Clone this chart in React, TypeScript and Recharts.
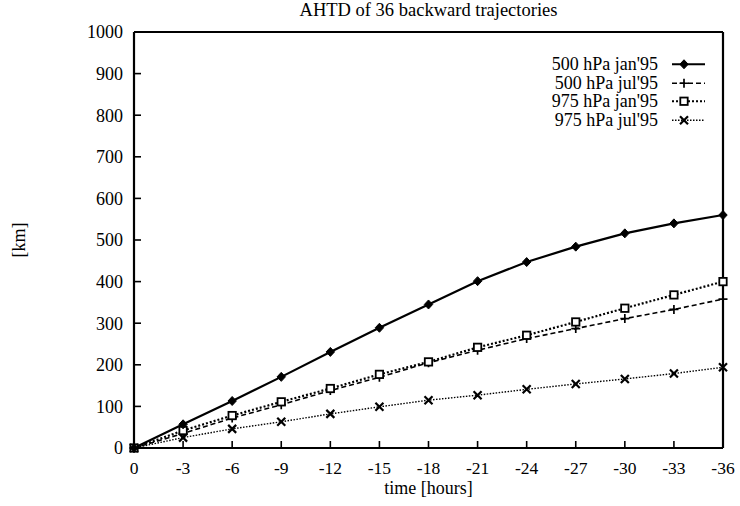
import React from 'react';
import { LineChart, Line, XAxis, YAxis, Legend } from 'recharts';

const hours = [0, -3, -6, -9, -12, -15, -18, -21, -24, -27, -30, -33, -36];
const jan500 = [0, 57, 113, 171, 231, 289, 345, 401, 447, 484, 516, 540, 560];
const jul500 = [0, 35, 72, 104, 138, 170, 205, 235, 263, 287, 311, 333, 358];
const jan975 = [0, 42, 78, 111, 143, 177, 207, 242, 271, 303, 336, 368, 400];
const jul975 = [0, 25, 46, 63, 82, 99, 115, 127, 141, 154, 166, 179, 194];
const yTicks = [0, 100, 200, 300, 400, 500, 600, 700, 800, 900, 1000];
const seriesNames = ["500 hPa jan'95", "500 hPa jul'95", "975 hPa jan'95", "975 hPa jul'95"];

const data = hours.map((h, i) => ({
  h,
  jan500: jan500[i],
  jul500: jul500[i],
  jan975: jan975[i],
  jul975: jul975[i],
}));

const FONT = "'Liberation Serif', 'Times New Roman', serif";

const diamondShape = (cx: number, cy: number, k?: string) => (
  <path key={k} d={`M${cx},${cy - 4.5} L${cx + 4.2},${cy} L${cx},${cy + 4.5} L${cx - 4.2},${cy} Z`} fill="#000" stroke="#000" strokeWidth={1} />
);
const plusShape = (cx: number, cy: number, k?: string) => (
  <path key={k} d={`M${cx - 4.5},${cy} L${cx + 4.5},${cy} M${cx},${cy - 4.5} L${cx},${cy + 4.5}`} stroke="#000" strokeWidth={1.7} fill="none" />
);
const squareShape = (cx: number, cy: number, k?: string) => (
  <rect key={k} x={cx - 3.7} y={cy - 3.7} width={7.4} height={7.4} fill="#fff" stroke="#000" strokeWidth={1.8} />
);
const crossShape = (cx: number, cy: number, k?: string) => (
  <path key={k} d={`M${cx - 4},${cy - 4} L${cx + 4},${cy + 4} M${cx - 4},${cy + 4} L${cx + 4},${cy - 4}`} stroke="#000" strokeWidth={2.2} fill="none" />
);

const shapes = [diamondShape, plusShape, squareShape, crossShape];
const dashes = [undefined, '5 3', '2 2', '1.5 1.5'];
const widths = [2.2, 1.6, 2.2, 1.4];

const mkDot = (idx: number) => (props: any) => {
  const { cx, cy, index } = props;
  if (cx == null || cy == null) return <g key={`e-${idx}-${index}`} />;
  return shapes[idx](cx, cy, `d-${idx}-${index}`);
};

const ROW = 18.5;

const renderLegend = () => (
  <div style={{ fontFamily: FONT, fontSize: 18, color: '#000' }}>
    {seriesNames.map((n, i) => (
      <div key={n} style={{ display: 'flex', justifyContent: 'flex-end', alignItems: 'center', height: ROW }}>
        <span style={{ lineHeight: `${ROW}px`, whiteSpace: 'nowrap' }}>{n}</span>
        <svg width={48} height={ROW} style={{ display: 'block' }}>
          <line x1={14} y1={ROW / 2} x2={47} y2={ROW / 2} stroke="#000" strokeWidth={widths[i]} strokeDasharray={dashes[i]} />
          {shapes[i](26, ROW / 2)}
        </svg>
      </div>
    ))}
  </div>
);

const tickStyle = { fill: '#000', fontSize: 18, fontFamily: FONT };
const xTickStyle = { fill: '#000', fontSize: 17.5, fontFamily: FONT };

export default function App() {
  return (
    <div style={{ position: 'absolute', left: 0, top: 0, width: 740, height: 506, background: '#fff' }}>
      <LineChart width={740} height={506} data={data} margin={{ top: 0, right: 0, bottom: 0, left: 0 }}>
        <XAxis
          xAxisId="bottom"
          dataKey="h"
          type="number"
          domain={[-36, 0]}
          reversed
          ticks={hours}
          interval={0}
          orientation="bottom"
          height={58}
          tickSize={-7}
          tickMargin={21}
          tick={xTickStyle}
          axisLine={{ stroke: '#000', strokeWidth: 2.2 }}
          tickLine={{ stroke: '#000', strokeWidth: 1.6 }}
          label={{ value: 'time [hours]', position: 'insideBottom', offset: 12, style: { fill: '#000', fontSize: 18, fontFamily: FONT } }}
        />
        <XAxis
          xAxisId="top"
          dataKey="h"
          type="number"
          domain={[-36, 0]}
          reversed
          ticks={hours}
          interval={0}
          orientation="top"
          height={32}
          tickSize={-7}
          tick={false}
          axisLine={{ stroke: '#000', strokeWidth: 2.2 }}
          tickLine={{ stroke: '#000', strokeWidth: 1.6 }}
          label={{ value: 'AHTD of 36 backward trajectories', position: 'insideTop', offset: 3, style: { fill: '#000', fontSize: 18.5, fontFamily: FONT } }}
        />
        <YAxis
          yAxisId="left"
          type="number"
          domain={[0, 1000]}
          ticks={yTicks}
          interval={0}
          orientation="left"
          width={134}
          tickSize={-7}
          tickMargin={18}
          tick={tickStyle}
          axisLine={{ stroke: '#000', strokeWidth: 2.2 }}
          tickLine={{ stroke: '#000', strokeWidth: 1.6 }}
          label={{ value: '[km]', angle: -90, position: 'insideLeft', offset: 19, style: { fill: '#000', fontSize: 18, fontFamily: FONT, textAnchor: 'middle' } }}
        />
        <YAxis
          yAxisId="right"
          type="number"
          domain={[0, 1000]}
          ticks={yTicks}
          interval={0}
          orientation="right"
          width={17}
          tickSize={-7}
          tick={false}
          axisLine={{ stroke: '#000', strokeWidth: 2.2 }}
          tickLine={{ stroke: '#000', strokeWidth: 1.6 }}
        />
        <Legend
          layout="vertical"
          align="center"
          verticalAlign="middle"
          content={renderLegend}
          wrapperStyle={{ left: 500, top: 55, width: 206, height: 74 }}
        />
        <Line xAxisId="top" yAxisId="right" dataKey="jan500" stroke="none" dot={false} activeDot={false} legendType="none" isAnimationActive={false} />
        <Line xAxisId="bottom" yAxisId="left" dataKey="jul975" stroke="#000" strokeWidth={widths[3]} strokeDasharray={dashes[3]} dot={mkDot(3)} activeDot={false} isAnimationActive={false} />
        <Line xAxisId="bottom" yAxisId="left" dataKey="jul500" stroke="#000" strokeWidth={widths[1]} strokeDasharray={dashes[1]} dot={mkDot(1)} activeDot={false} isAnimationActive={false} />
        <Line xAxisId="bottom" yAxisId="left" dataKey="jan975" stroke="#000" strokeWidth={widths[2]} strokeDasharray={dashes[2]} dot={mkDot(2)} activeDot={false} isAnimationActive={false} />
        <Line xAxisId="bottom" yAxisId="left" dataKey="jan500" stroke="#000" strokeWidth={widths[0]} dot={mkDot(0)} activeDot={false} isAnimationActive={false} />
      </LineChart>
    </div>
  );
}
